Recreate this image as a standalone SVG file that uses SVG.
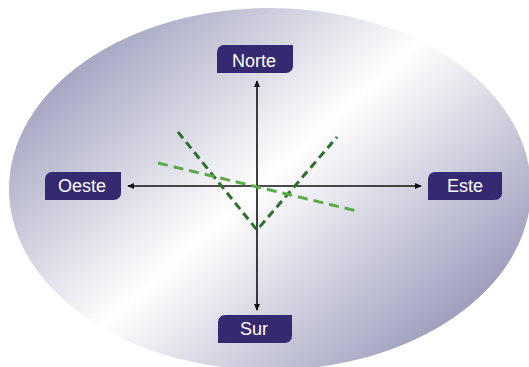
<svg xmlns="http://www.w3.org/2000/svg" width="529" height="367" viewBox="0 0 529 367">
  <defs>
    <linearGradient id="bg" gradientUnits="userSpaceOnUse" x1="95" y1="-29" x2="455" y2="373">
      <stop offset="0" stop-color="#8e8eb2"/>
      <stop offset="0.5" stop-color="#ffffff"/>
      <stop offset="1" stop-color="#8e8eb2"/>
    </linearGradient>
    <marker id="ah" viewBox="0 0 8 8" refX="7" refY="4" markerWidth="7" markerHeight="7" markerUnits="userSpaceOnUse" orient="auto-start-reverse">
      <path d="M0,0.5 L8,4 L0,7.5 Z" fill="#111"/>
    </marker>
    <style>
      .box { fill: #352a72; }
      .lbl { font-family: "Liberation Sans", Arial, sans-serif; font-size: 18px; fill: #ffffff; text-anchor: middle; }
      .axis { stroke: #111; stroke-width: 1.6; fill: none; marker-start: url(#ah); marker-end: url(#ah); }
      .dark { stroke: #2f6e2f; stroke-width: 3; fill: none; stroke-dasharray: 8 5; }
      .light { stroke: #5bab4b; stroke-width: 3; fill: none; stroke-dasharray: 10 6; }
    </style>
  </defs>
  <rect width="529" height="367" fill="#ffffff"/>
  <ellipse cx="270" cy="189" rx="261" ry="181" fill="url(#bg)"/>
  <g id="connectors">
    <line class="axis" x1="257" y1="81" x2="257" y2="310"/>
    <line class="axis" x1="128" y1="186" x2="421" y2="186"/>
    <polyline class="dark" points="178,132 257,230 337,137"/>
    <line class="light" x1="158" y1="163" x2="357" y2="211"/>
  </g>
  <g id="norte">
    <path class="box" d="M224,45 H293 V66 A7,7 0 0 1 286,73 H217 V52 A7,7 0 0 1 224,45 Z"/>
    <text class="lbl" x="254" y="67">Norte</text>
  </g>
  <g id="oeste">
    <path class="box" d="M52,172 H121 V193 A7,7 0 0 1 114,200 H45 V179 A7,7 0 0 1 52,172 Z"/>
    <text class="lbl" x="82" y="192">Oeste</text>
  </g>
  <g id="este">
    <path class="box" d="M435,172 H502 V193 A7,7 0 0 1 495,200 H428 V179 A7,7 0 0 1 435,172 Z"/>
    <text class="lbl" x="465" y="192">Este</text>
  </g>
  <g id="sur">
    <path class="box" d="M225,315 H292 V336 A7,7 0 0 1 285,343 H218 V322 A7,7 0 0 1 225,315 Z"/>
    <text class="lbl" x="254" y="335">Sur</text>
  </g>
</svg>
